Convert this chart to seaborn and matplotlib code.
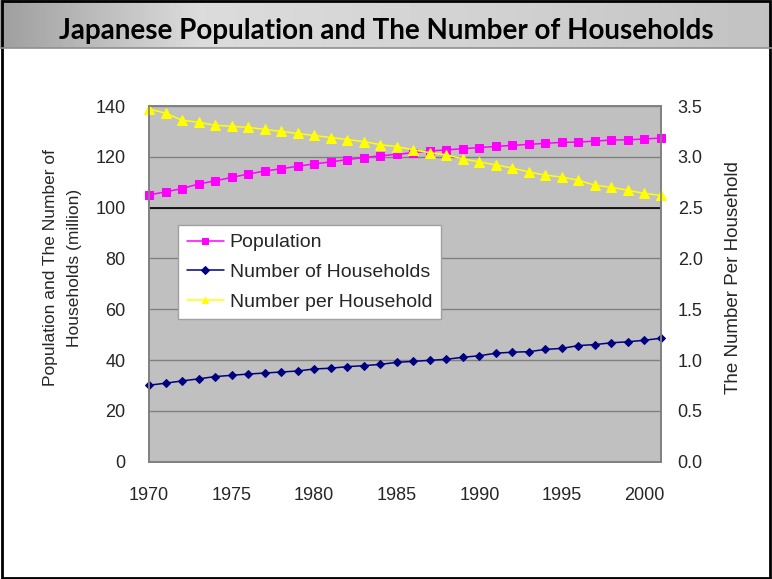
import numpy as np
import pandas as pd
import matplotlib
matplotlib.use("Agg")
import matplotlib.pyplot as plt
from matplotlib.patches import Rectangle
from matplotlib.ticker import MultipleLocator, FormatStrFormatter
from matplotlib.lines import Line2D
import seaborn as sns

# ---- data -----------------------------------------------------------------
years = list(range(1970, 2002))
population = [105.0, 106.2, 107.5, 109.3, 110.5, 111.9, 113.2, 114.4, 115.3, 116.3,
              117.2, 118.0, 118.9, 119.7, 120.4, 121.0, 121.6, 122.3, 122.7, 123.2,
              123.6, 124.1, 124.5, 124.9, 125.3, 125.7, 125.8, 126.2, 126.6, 126.7,
              127.0, 127.4]
households = [30.1, 30.9, 31.8, 32.6, 33.5, 34.0, 34.5, 34.9, 35.3, 35.7,
              36.5, 36.8, 37.4, 37.8, 38.3, 39.1, 39.5, 39.9, 40.3, 41.1,
              41.7, 42.7, 43.1, 43.3, 44.2, 44.6, 45.7, 46.1, 46.8, 47.2,
              47.8, 48.6]
per_household = [3.47, 3.43, 3.36, 3.34, 3.31, 3.30, 3.29, 3.27, 3.25, 3.23,
                 3.21, 3.19, 3.17, 3.15, 3.12, 3.10, 3.07, 3.04, 3.02, 2.98,
                 2.95, 2.92, 2.89, 2.85, 2.82, 2.80, 2.77, 2.72, 2.70, 2.67,
                 2.64, 2.62]
series_names = ["Population", "Number of Households", "Number per Household"]
title = "Japanese Population and The Number of Households"
left_label = "Population and The Number of\nHouseholds (million)"
right_label = "The Number Per Household"

df = pd.DataFrame({"year": years, "pop": population,
                   "hh": households, "per": per_household})

sns.set_style("white")
plt.rcParams["font.family"] = ["Liberation Sans", "DejaVu Sans"]

W, H = 772, 579
fig = plt.figure(figsize=(W / 100, H / 100), dpi=100)
fig.patch.set_facecolor("white")

def fx(px):
    return px / W

def fy(py):
    return 1 - py / H

# ---- title banner -----------------------------------------------------------
ban = fig.add_axes([0, fy(48), 1, 48 / H])
ban.set_axis_off()
grad = np.concatenate([np.linspace(0.62, 0.86, 200), np.linspace(0.86, 0.82, 300),
                       np.linspace(0.82, 0.76, 272)])
ban.imshow(np.tile(grad, (10, 1)), cmap="gray", vmin=0, vmax=1,
           aspect="auto", extent=[0, 1, 0, 1])
ban.set_xlim(0, 1)
ban.set_ylim(0, 1)
fig.text(fx(386), fy(39), title, ha="center", va="baseline",
         fontsize=20, fontweight="bold", family=["Lato", "DejaVu Sans"],
         color="black")
fig.add_artist(Line2D([0, 1], [fy(48), fy(48)], color="#909090", lw=1.2,
                      transform=fig.transFigure))

# ---- plot area --------------------------------------------------------------
x0, x1, y0, y1 = 149, 661, 106, 461.7
ax = fig.add_axes([fx(x0), fy(y1), fx(x1 - x0), (y1 - y0) / H])
ax.set_facecolor("#C0C0C0")

sns.lineplot(data=df, x="year", y="pop", ax=ax, color="#FF00FF", marker="s",
             markersize=5.5, markeredgecolor="#FF00FF", lw=1.1, label=series_names[0],
             legend=False)
sns.lineplot(data=df, x="year", y="hh", ax=ax, color="#000080", marker="D",
             markersize=4.5, markeredgecolor="#000080", lw=1.1, label=series_names[1],
             legend=False)

ax.set_xlim(1970, 2001)
ax.set_ylim(0, 140)
ax.yaxis.set_major_locator(MultipleLocator(20))
ax.xaxis.set_major_locator(MultipleLocator(5))
ax.xaxis.set_minor_locator(MultipleLocator(1))
ax.grid(axis="y", color="#808080", lw=1)
ax.set_axisbelow(True)
ax.axhline(100, color="black", lw=1.2, zorder=1.5)
ax.set_xlabel("")
ax.set_ylabel("")
for s in ax.spines.values():
    s.set_color("#808080")
    s.set_linewidth(1.2)
ax.tick_params(axis="x", which="both", direction="in", length=6, color="#808080",
               pad=18, labelsize=13)
ax.tick_params(axis="y", length=0, pad=17, labelsize=13)

ax2 = ax.twinx()
sns.lineplot(data=df, x="year", y="per", ax=ax2, color="#FFFF00", marker="^",
             markersize=6.5, markeredgecolor="#FFFF00", lw=1.1, label=series_names[2],
             legend=False)
ax2.set_ylim(0, 3.5)
ax2.yaxis.set_major_locator(MultipleLocator(0.5))
ax2.yaxis.set_major_formatter(FormatStrFormatter("%.1f"))
ax2.set_ylabel("")
ax2.set_xlabel("")
ax2.tick_params(axis="y", length=0, pad=12, labelsize=13)
for s in ax2.spines.values():
    s.set_color("#808080")
    s.set_linewidth(1.2)
for ln in ax.get_lines() + ax2.get_lines():
    ln.set_clip_on(False)

# ---- axis titles ------------------------------------------------------------
fig.text(fx(63), fy(268), left_label, rotation=90, ha="center", va="center",
         multialignment="center", fontsize=12.5, linespacing=1.75)
fig.text(fx(733), fy(278), right_label, rotation=90, ha="center", va="center",
         fontsize=13.5)

# ---- legend -----------------------------------------------------------------
handles = [ax.get_lines()[0], ax.get_lines()[1], ax2.get_lines()[0]]
leg = ax2.legend(handles, series_names, loc="upper left",
                 bbox_to_anchor=(fx(178), fy(225)), bbox_transform=fig.transFigure,
                 borderaxespad=0, fancybox=False, framealpha=1, edgecolor="#A0A0A0",
                 fontsize=14, handlelength=1.9, labelspacing=0.62,
                 borderpad=0.45, handletextpad=0.3)
leg.get_frame().set_linewidth(1)
for lh in leg.legend_handles:
    lh.set_markersize(4.5)

# ---- outer frame ------------------------------------------------------------
fig.add_artist(Rectangle((0.002, 0.002), 0.996, 0.996, transform=fig.transFigure,
                         fill=False, edgecolor="black", lw=2))

fig.savefig("out.png", dpi=100)
